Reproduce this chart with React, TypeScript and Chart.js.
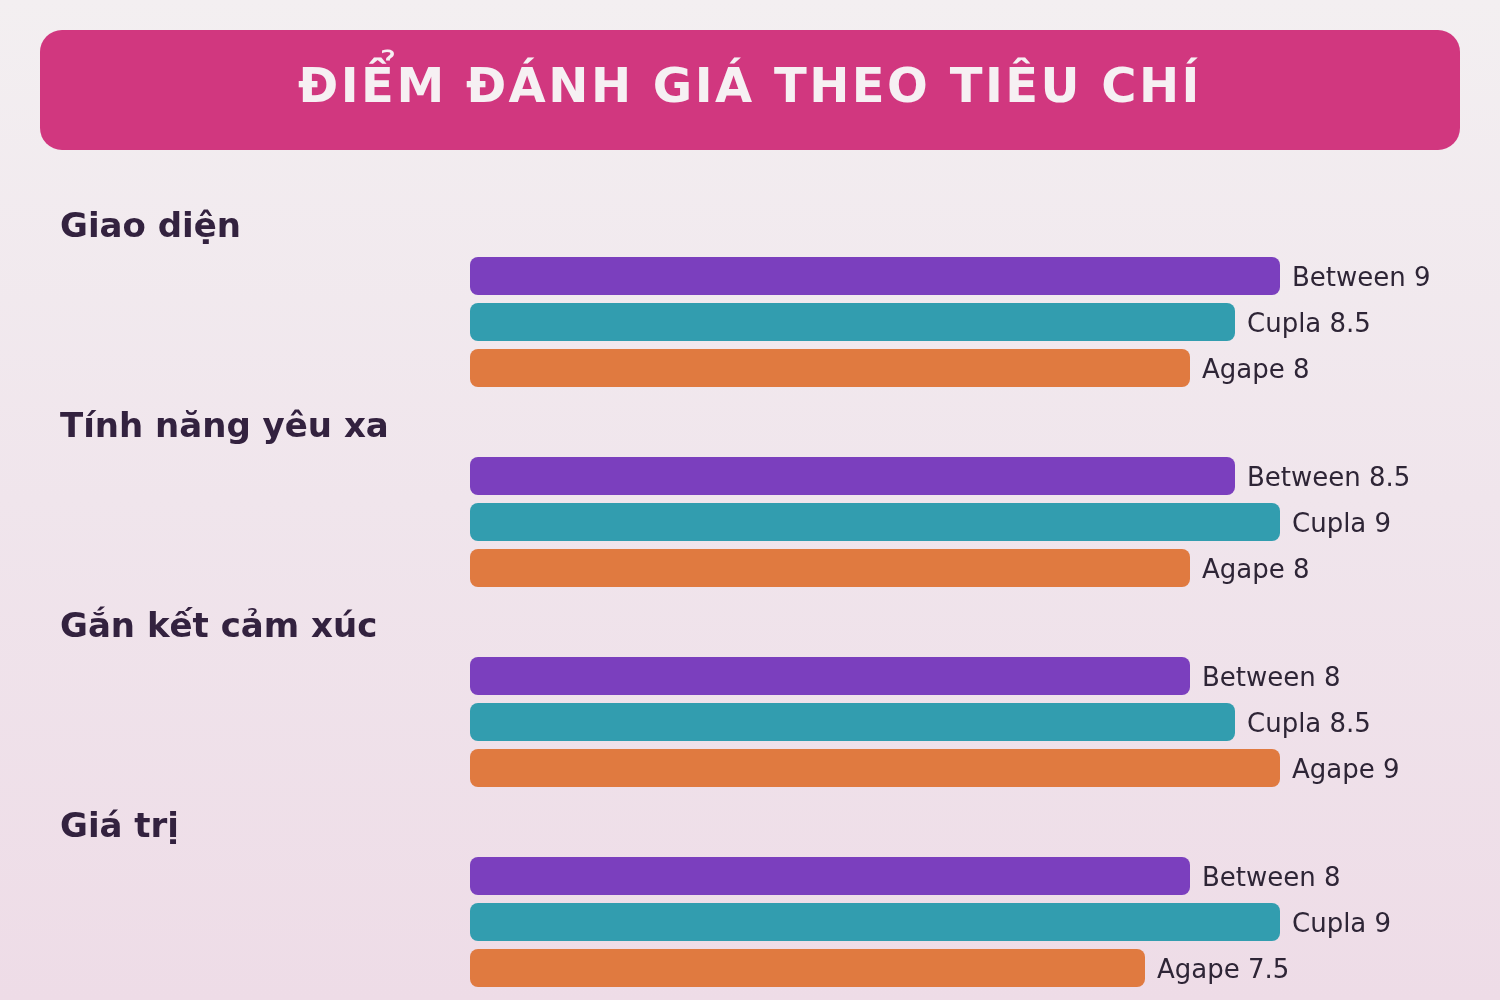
import React, { useEffect, useRef } from "react";
import { Chart, registerables } from "chart.js";

Chart.register(...registerables);

const title = "ĐIỂM ĐÁNH GIÁ THEO TIÊU CHÍ";
const categories = ["Giao diện", "Tính năng yêu xa", "Gắn kết cảm xúc", "Giá trị"];
const seriesNames = ["Between", "Cupla", "Agape"];
const betweenScores = [9, 8.5, 8, 8];
const cuplaScores = [8.5, 9, 8.5, 9];
const agapeScores = [8, 8, 9, 7.5];
const seriesColors = ["#7B3FBE", "#329DAF", "#E07A40"];

const FONT = "'DejaVu Sans', 'Noto Sans', sans-serif";

function roundRect(ctx: CanvasRenderingContext2D, x: number, y: number, w: number, h: number, r: number) {
  ctx.beginPath();
  ctx.moveTo(x + r, y);
  ctx.lineTo(x + w - r, y);
  ctx.arcTo(x + w, y, x + w, y + r, r);
  ctx.lineTo(x + w, y + h - r);
  ctx.arcTo(x + w, y + h, x + w - r, y + h, r);
  ctx.lineTo(x + r, y + h);
  ctx.arcTo(x, y + h, x, y + h - r, r);
  ctx.lineTo(x, y + r);
  ctx.arcTo(x, y, x + r, y, r);
  ctx.closePath();
}

const decorPlugin = {
  id: "decor",
  beforeDraw(chart: any) {
    const ctx = chart.ctx as CanvasRenderingContext2D;
    ctx.save();
    ctx.fillStyle = "#D1377F";
    roundRect(ctx, 40, 30, 1420, 120, 22);
    ctx.fill();
    ctx.fillStyle = "#F6F0F3";
    ctx.font = `bold 48px ${FONT}`;
    (ctx as any).letterSpacing = "2.5px";
    ctx.textAlign = "center";
    ctx.textBaseline = "middle";
    ctx.fillText(title, 750, 90);
    ctx.restore();
  },
  afterDatasetsDraw(chart: any) {
    const ctx = chart.ctx as CanvasRenderingContext2D;
    const yScale = chart.scales.y;
    ctx.save();
    ctx.textAlign = "left";
    ctx.textBaseline = "middle";
    ctx.font = `bold 34px ${FONT}`;
    ctx.fillStyle = "#33223F";
    categories.forEach((c, i) => {
      const yc = yScale.getPixelForValue(i);
      ctx.fillText(c, 60, yc - 94);
    });
    ctx.font = `26px ${FONT}`;
    ctx.fillStyle = "#2E2536";
    chart.data.datasets.forEach((ds: any, di: number) => {
      const meta = chart.getDatasetMeta(di);
      meta.data.forEach((bar: any, i: number) => {
        ctx.fillText(`${ds.label} ${ds.data[i]}`, bar.x + 12, bar.y + 3);
      });
    });
    ctx.restore();
  },
};

export default function App() {
  const ref = useRef<HTMLCanvasElement | null>(null);
  useEffect(() => {
    if (!ref.current) return;
    const values = [betweenScores, cuplaScores, agapeScores];
    const chart = new Chart(ref.current, {
      type: "bar",
      data: {
        labels: categories,
        datasets: seriesNames.map((n, i) => ({
          label: n,
          data: values[i],
          backgroundColor: seriesColors[i],
          borderRadius: 8,
          borderSkipped: false,
          categoryPercentage: 0.69,
          barPercentage: 0.826,
        })),
      },
      options: {
        indexAxis: "y",
        responsive: false,
        animation: false,
        layout: { padding: { left: 470, right: 40, top: 222, bottom: 0 } },
        scales: {
          x: { display: false, min: 0, max: 11 },
          y: { display: false, grid: { display: false } },
        },
        plugins: {
          legend: { display: false },
          tooltip: { enabled: false },
          title: { display: false },
        },
      },
      plugins: [decorPlugin],
    } as any);
    return () => chart.destroy();
  }, []);
  return (
    <div
      style={{
        position: "fixed",
        left: 0,
        top: 0,
        width: 1500,
        height: 1000,
        background: "linear-gradient(180deg, #F3EFF1 0%, #F0E5EC 50%, #EEDCE7 100%)",
        overflow: "hidden",
      }}
    >
      <canvas ref={ref} width={1500} height={1022} style={{ display: "block" }} />
    </div>
  );
}
